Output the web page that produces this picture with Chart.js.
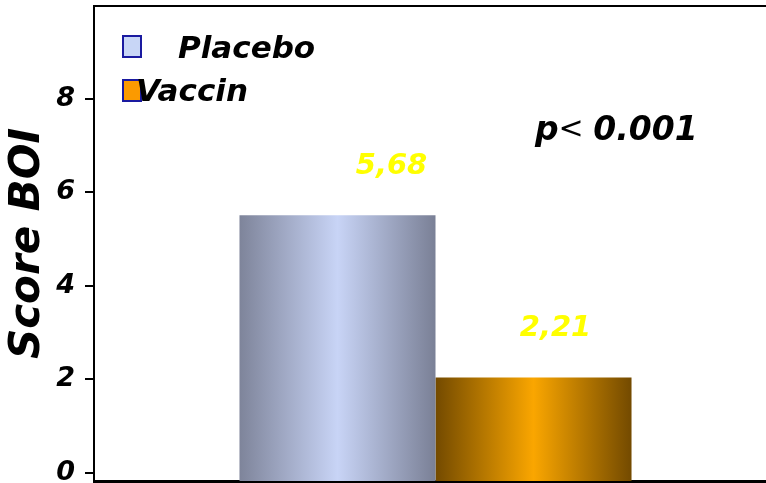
<!DOCTYPE html>
<html>
<head>
<meta charset="utf-8">
<script src="https://cdn.jsdelivr.net/npm/chart.js@4/dist/chart.umd.min.js"></script>
<style>
  html, body { margin: 0; padding: 0; background: #fff; overflow: hidden; }
  #wrap { width: 766px; height: 483px; overflow: hidden; }
</style>
</head>
<body>
<div id="wrap"><canvas id="boi-chart" width="777" height="483"></canvas></div>
<script>
// data
const categories = [''];
const seriesNames = ['Placebo', 'Vaccin'];
const placeboValues = [5.68];
const vaccinValues = [2.21];
const yTickValues = [0, 2, 4, 6, 8];
const pValueText = ['p', '<', ' 0.001'];

const FONT = "'DejaVu Sans', 'Liberation Sans', Arial, sans-serif";

// gradient stops (edge, centre, edge) for each bar
const barShades = [
  ['rgb(126,132,154)', 'rgb(200,212,246)', 'rgb(122,128,150)'],
  ['rgb(115,74,0)', 'rgb(250,166,0)', 'rgb(115,74,0)']
];
const legendFill = ['#c8d6f6', '#fb9a00'];
const tickShift = 0.17; // tick marks sit a little above the bar base in the original
const labelDx = [54, 22];

// paint each bar with a horizontal "cylinder" gradient
const barGradient = {
  id: 'barGradient',
  beforeDatasetsDraw(chart) {
    const ctx = chart.ctx;
    chart.data.datasets.forEach((ds, i) => {
      chart.getDatasetMeta(i).data.forEach((bar) => {
        const { x, width } = bar.getProps(['x', 'width'], true);
        const g = ctx.createLinearGradient(x - width / 2, 0, x + width / 2, 0);
        g.addColorStop(0, barShades[i][0]);
        g.addColorStop(0.5, barShades[i][1]);
        g.addColorStop(1, barShades[i][2]);
        bar.options = Object.assign({}, bar.options, { backgroundColor: g });
      });
    });
  }
};

// value labels, legend, p-value and top frame line
const extras = {
  id: 'extras',
  afterDraw(chart) {
    const ctx = chart.ctx;
    const area = chart.chartArea;
    ctx.save();

    // top frame
    ctx.strokeStyle = '#000';
    ctx.lineWidth = 2;
    ctx.beginPath();
    ctx.moveTo(area.left, area.top);
    ctx.lineTo(area.right, area.top);
    ctx.stroke();

    // value labels
    ctx.font = 'italic bold 29px ' + FONT;
    ctx.fillStyle = '#ffff00';
    ctx.textAlign = 'center';
    ctx.textBaseline = 'middle';
    chart.data.datasets.forEach((ds, i) => {
      chart.getDatasetMeta(i).data.forEach((bar, j) => {
        const { x, y } = bar.getProps(['x', 'y'], true);
        const txt = ds.data[j].toFixed(2).replace('.', ',');
        ctx.fillText(txt, x + labelDx[i], y - 49);
      });
    });

    // legend
    ctx.textAlign = 'left';
    ctx.textBaseline = 'alphabetic';
    ctx.font = 'italic bold 31px ' + FONT;
    const legendPos = [[123, 36, 178, 58], [123, 80, 136, 101]];
    chart.data.datasets.forEach((ds, i) => {
      const [sx, sy, tx, ty] = legendPos[i];
      ctx.fillStyle = legendFill[i];
      ctx.fillRect(sx, sy, 18, 21);
      ctx.strokeStyle = '#1a1aa0';
      ctx.lineWidth = 2;
      ctx.strokeRect(sx, sy, 18, 21);
      ctx.fillStyle = '#000';
      ctx.fillText(ds.label, tx, ty);
    });

    // p-value
    let px = 535;
    const py = 140;
    ctx.fillStyle = '#000';
    ctx.font = 'italic bold 33px ' + FONT;
    ctx.fillText(pValueText[0], px, py);
    px += ctx.measureText(pValueText[0]).width;
    ctx.font = '30px ' + FONT;
    ctx.fillText(pValueText[1], px, py - 2);
    px += ctx.measureText(pValueText[1]).width - 2;
    ctx.font = 'italic bold 33px ' + FONT;
    ctx.fillText(pValueText[2], px, py);

    ctx.restore();
  }
};

const ctx = document.getElementById('boi-chart').getContext('2d');
new Chart(ctx, {
  type: 'bar',
  data: {
    labels: categories,
    datasets: [
      {
        label: seriesNames[0],
        data: placeboValues,
        backgroundColor: barShades[0][1],
        borderWidth: 0,
        barPercentage: 1,
        categoryPercentage: 0.574
      },
      {
        label: seriesNames[1],
        data: vaccinValues,
        backgroundColor: barShades[1][1],
        borderWidth: 0,
        barPercentage: 1,
        categoryPercentage: 0.574
      }
    ]
  },
  options: {
    responsive: false,
    animation: false,
    layout: { padding: { left: 0, right: 0, top: 6, bottom: 0 } },
    plugins: {
      legend: { display: false },
      tooltip: { enabled: false }
    },
    scales: {
      x: {
        ticks: { display: false },
        grid: { drawOnChartArea: false, drawTicks: false },
        border: { color: '#000', width: 3 },
        afterFit: (s) => { s.height = 2; s.paddingLeft = 0; s.paddingRight = 0; }
      },
      y: {
        min: 0,
        max: 10.15,
        afterBuildTicks: (s) => {
          s.ticks = yTickValues.map((v) => ({ value: v + tickShift }));
        },
        ticks: {
          color: '#000',
          padding: 10,
          font: { family: FONT, size: 27, style: 'italic', weight: 'bold' },
          callback: (value) => Math.round(value - tickShift)
        },
        grid: {
          drawOnChartArea: false,
          color: '#000',
          lineWidth: 2,
          tickLength: 9
        },
        border: { color: '#000', width: 2 },
        title: {
          display: true,
          text: 'Score BOI',
          color: '#000',
          padding: { top: 3, bottom: 0 },
          font: { family: FONT, size: 42, style: 'italic', weight: 'bold' }
        },
        afterFit: (s) => { s.width = 94; s.paddingTop = 0; s.paddingBottom = 0; }
      }
    }
  },
  plugins: [barGradient, extras]
});
</script>
</body>
</html>
